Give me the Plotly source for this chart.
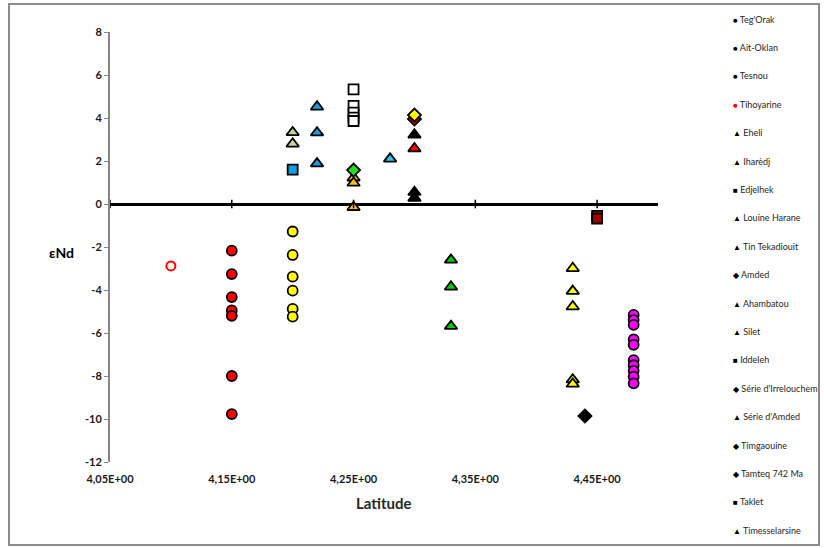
import plotly.graph_objects as go

# ---- data: latitude (x) and epsilon-Nd (y) per locality ----
teg_orak_lat = [4.15, 4.15, 4.15, 4.15, 4.15, 4.15, 4.15]
teg_orak_end = [-2.17, -3.26, -4.33, -4.95, -5.2, -8.0, -9.77]

ait_oklan_lat = [4.20, 4.20, 4.20, 4.20, 4.20, 4.20]
ait_oklan_end = [-1.28, -2.37, -3.38, -4.03, -4.88, -5.24]

tesnou_lat = [4.48, 4.48, 4.48, 4.48, 4.48, 4.48, 4.48, 4.48, 4.48, 4.48]
tesnou_end = [-5.16, -5.4, -5.62, -6.3, -6.55, -7.26, -7.5, -7.76, -8.03, -8.34]

tihoyarine_lat = [4.10]
tihoyarine_end = [-2.88]

eheli_lat = [4.20, 4.20]
eheli_end = [3.33, 2.8]

iharedj_lat = [4.22, 4.22, 4.22]
iharedj_end = [4.52, 3.32, 1.88]

edjelhek_lat = [4.20]
edjelhek_end = [1.6]

louine_lat = [4.25, 4.25, 4.25]
louine_end = [1.22, 0.98, -0.15]

tin_tek_lat = [4.28]
tin_tek_end = [2.1]

amded_lat = [4.25]
amded_end = [1.58]

ahambatou_lat = [4.30, 4.30, 4.30]
ahambatou_end = [3.22, 0.55, 0.28]

silet_lat = [4.30]
silet_end = [2.58]

iddeleh_lat = [4.25, 4.25, 4.25, 4.25, 4.25]
iddeleh_end = [5.33, 4.56, 4.25, 4.02, 3.86]

irrelouchem_lat = [4.30]
irrelouchem_end = [4.14]

serie_amded_lat = [4.33, 4.33, 4.33]
serie_amded_end = [-2.6, -3.85, -5.68]

timgaouine_lat = [4.30]
timgaouine_end = [3.95]

tamteq_lat = [4.44]
tamteq_end = [-9.86]

taklet_lat = [4.45, 4.45]
taklet_end = [-0.55, -0.68]

timesselarsine_lat = [4.43, 4.43, 4.43, 4.43, 4.43]
timesselarsine_end = [-2.99, -4.05, -4.77, -8.17, -8.37]

x_tick_vals = [4.05, 4.15, 4.25, 4.35, 4.45]
x_tick_text = ["4,05E+00", "4,15E+00", "4,25E+00", "4,35E+00", "4,45E+00"]
y_tick_vals = [8, 6, 4, 2, 0, -2, -4, -6, -8, -10, -12]
y_tick_text = ["8", "6", "4", "2", "0", "-2", "-4", "-6", "-8", "-10", "-12"]

# ---- series styling: (name, x, y, symbol, fill, outline, size) ----
series = [
    ("Teg'Orak", teg_orak_lat, teg_orak_end, "circle", "#FF0000", "black", 10),
    ("Ait-Oklan", ait_oklan_lat, ait_oklan_end, "circle", "#FFFF00", "black", 10),
    ("Tesnou", tesnou_lat, tesnou_end, "circle", "#FF00FF", "black", 10),
    ("Tihoyarine", tihoyarine_lat, tihoyarine_end, "circle", "white", "#FF0000", 9),
    ("Eheli", eheli_lat, eheli_end, "triangle-up", "#C4D79B", "black", 11),
    ("Iharèdj", iharedj_lat, iharedj_end, "triangle-up", "#1C9CDA", "black", 11),
    ("Edjelhek", edjelhek_lat, edjelhek_end, "square", "#0EA0E0", "black", 10),
    ("Louine Harane", louine_lat, louine_end, "triangle-up", "#FFC000", "black", 11),
    ("Tin Tekadiouit", tin_tek_lat, tin_tek_end, "triangle-up", "#22CCEE", "black", 11),
    ("Amded", amded_lat, amded_end, "diamond", "#22DD22", "black", 10),
    ("Ahambatou", ahambatou_lat, ahambatou_end, "triangle-up", "black", "black", 11),
    ("Silet", silet_lat, silet_end, "triangle-up", "#FF0000", "black", 11),
    ("Iddeleh", iddeleh_lat, iddeleh_end, "square", "white", "black", 10),
    ("Série d'Irrelouchem", irrelouchem_lat, irrelouchem_end, "diamond", "#FFFF00", "black", 10),
    ("Série d'Amded", serie_amded_lat, serie_amded_end, "triangle-up", "#00CC00", "black", 11),
    ("Timgaouine", timgaouine_lat, timgaouine_end, "diamond", "#D00000", "black", 10),
    ("Tamteq 742 Ma", tamteq_lat, tamteq_end, "diamond", "black", "black", 10),
    ("Taklet", taklet_lat, taklet_end, "square", "#A00000", "black", 10),
    ("Timesselarsine", timesselarsine_lat, timesselarsine_end, "triangle-up", "#FFFF00", "black", 11),
]

# drawing order: yellow diamond sits on top of the red one at 4.30
draw_order = [s[0] for s in series if s[0] != "Série d'Irrelouchem"] + ["Série d'Irrelouchem"]
by_name = {s[0]: s for s in series}

fig = go.Figure()
for name in draw_order:
    _, xs, ys, sym, fill, edge, size = by_name[name]
    fig.add_trace(go.Scatter(
        x=xs, y=ys, mode="markers", name=name, showlegend=False,
        marker=dict(symbol=sym, color=fill, size=size,
                    line=dict(color=edge, width=2 if edge != "black" else 1.8)),
    ))

# ---- geometry of the plotting area (pixels) ----
W_PAGE, H_PAGE = 824, 548
L, R, T, B = 110, 658, 32, 462


def px_x(px):
    return (px - L) / (R - L)


def px_y(py):
    return 1 - (py - T) / (B - T)


FONT = "Lato, 'Open Sans', sans-serif"

# crossing tick marks on the zero line
shapes = []
for tv in x_tick_vals:
    shapes.append(dict(type="line", xref="x", yref="y", x0=tv, x1=tv, y0=-0.2, y1=0.2,
                       line=dict(color="black", width=1.5)))
# chart-area frame
shapes.append(dict(type="rect", xref="paper", yref="paper",
                   x0=px_x(9), x1=px_x(819), y0=px_y(545), y1=px_y(4),
                   line=dict(color="#8C8C8C", width=2), fillcolor="rgba(0,0,0,0)", layer="below"))

# legend: small glyph + name, stacked on the right
glyph = {"circle": "●", "triangle-up": "▲", "square": "■", "diamond": "◆"}
annotations = []
y_first, step = 19, 28.4
for i, (name, _, _, sym, fill, edge, _) in enumerate(series):
    gcol = "#FF0000" if name == "Tihoyarine" else "black"
    txt = ("<span style='font-size:8px;color:%s'>%s</span> %s" % (gcol, glyph[sym], name))
    annotations.append(dict(xref="paper", yref="paper", x=px_x(731), y=px_y(y_first + i * step),
                            xanchor="left", yanchor="middle", showarrow=False, text=txt,
                            font=dict(family=FONT, size=9, color="#262626")))

annotations.append(dict(xref="paper", yref="paper", x=px_x(61), y=px_y(253), text="<b>εNd</b>",
                        showarrow=False, xanchor="center", yanchor="middle",
                        font=dict(family=FONT, size=14, color="black")))
annotations.append(dict(xref="paper", yref="paper", x=px_x(384), y=px_y(503), text="<b>Latitude</b>",
                        showarrow=False, xanchor="center", yanchor="middle",
                        font=dict(family=FONT, size=15, color="#262626")))

fig.update_layout(
    width=W_PAGE, height=H_PAGE,
    margin=dict(l=L, r=W_PAGE - R, t=T, b=H_PAGE - B),
    paper_bgcolor="white", plot_bgcolor="white",
    showlegend=False,
    shapes=shapes, annotations=annotations,
    xaxis=dict(range=[4.05, 4.50], tickvals=x_tick_vals,
               ticktext=["<b>%s</b>" % t for t in x_tick_text],
               showgrid=False, zeroline=False, showline=False,
               ticks="outside", ticklen=7, tickcolor="rgba(0,0,0,0)",
               tickfont=dict(family=FONT, size=11, color="#1a1a1a")),
    yaxis=dict(range=[-12, 8], tickvals=y_tick_vals,
               ticktext=["<b>%s</b>" % t for t in y_tick_text], showgrid=False,
               zeroline=True, zerolinecolor="black", zerolinewidth=3,
               showline=True, linecolor="#868686", linewidth=2,
               ticks="outside", ticklen=4, tickcolor="#868686", tickwidth=1,
               tickfont=dict(family=FONT, size=11, color="#1a1a1a")),
)

fig.write_html("out.html")
